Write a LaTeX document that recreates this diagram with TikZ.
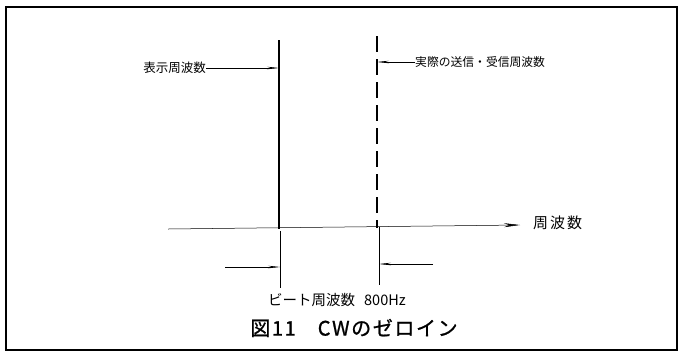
\documentclass[tikz,border=0pt]{standalone}
\usepackage{fontspec}
\setmainfont{Noto Sans CJK JP}
\newfontfamily\jpfont{Noto Sans CJK JP}
\newfontfamily\capfont[FakeBold=1,LetterSpace=8]{Noto Sans CJK JP}
\usetikzlibrary{arrows.meta}
\tikzset{
  frame/.style={draw, line width=1.6pt},
  sig/.style={line width=1.3pt},
  thin/.style={line width=0.5pt},
  lbl/.style={font=\jpfont\fontsize{12.5}{14}\selectfont, inner sep=0pt},
  arr/.style={thin, -{Stealth[length=12pt,width=2.5pt]}},
}
\begin{document}
\begin{tikzpicture}[x=1pt,y=-1pt]
\useasboundingbox (0,0) rectangle (684,357);
\draw[frame] (6,7) rectangle (677,350);
% coordinates
\coordinate (s0) at (279,40);
\coordinate (s1) at (279,229);
\coordinate (d0) at (377,36);
\coordinate (d1) at (377,228);
\coordinate (ax0) at (168,229);
\coordinate (ax1) at (520,225);
% signal lines
\draw[sig] (s0) -- (s1);
\draw[sig, dash pattern=on 16pt off 7pt] (d0) -- (d1);
% axis
\draw[thin, -{Stealth[length=16pt,width=4pt]}] (ax0) -- (ax1);
\node[lbl, font=\jpfont\fontsize{15}{17}\selectfont, anchor=west] (axl) at (533,223) {周\hspace{2pt}波\hspace{2pt}数};
% labels
\node[lbl, anchor=east] (ldisp) at (206,68) {表示周波数};
\coordinate (ldispend) at (279,68);
\draw[arr] (ldisp.east) -- (ldispend);
\node[lbl, font=\jpfont\fontsize{11.8}{14}\selectfont, anchor=west] (lreal) at (415,62) {実際の送信・受信周波数};
\coordinate (lrealend) at (377,62);
\draw[arr] (lreal.west) -- (lrealend);
% extension lines
\coordinate (e0) at (280,231);
\coordinate (e1) at (280,288);
\coordinate (f0) at (379,227);
\coordinate (f1) at (379,285);
\draw[thin] (e0) -- (e1);
\draw[thin] (f0) -- (f1);
\coordinate (a0) at (225,267);
\coordinate (a1) at (280,267);
\coordinate (b0) at (433,264);
\coordinate (b1) at (379,264);
\draw[arr] (a0) -- (a1);
\draw[arr] (b0) -- (b1);
% texts
\node[lbl, font=\jpfont\fontsize{14.5}{16}\selectfont] (beat) at (337,300) {ビート周波数\hspace{9pt}800Hz};
\node[lbl, font=\capfont\fontsize{20}{22}\selectfont] (cap) at (354,328) {図11\hspace{22pt}CWのゼロイン};
\end{tikzpicture}
\end{document}
